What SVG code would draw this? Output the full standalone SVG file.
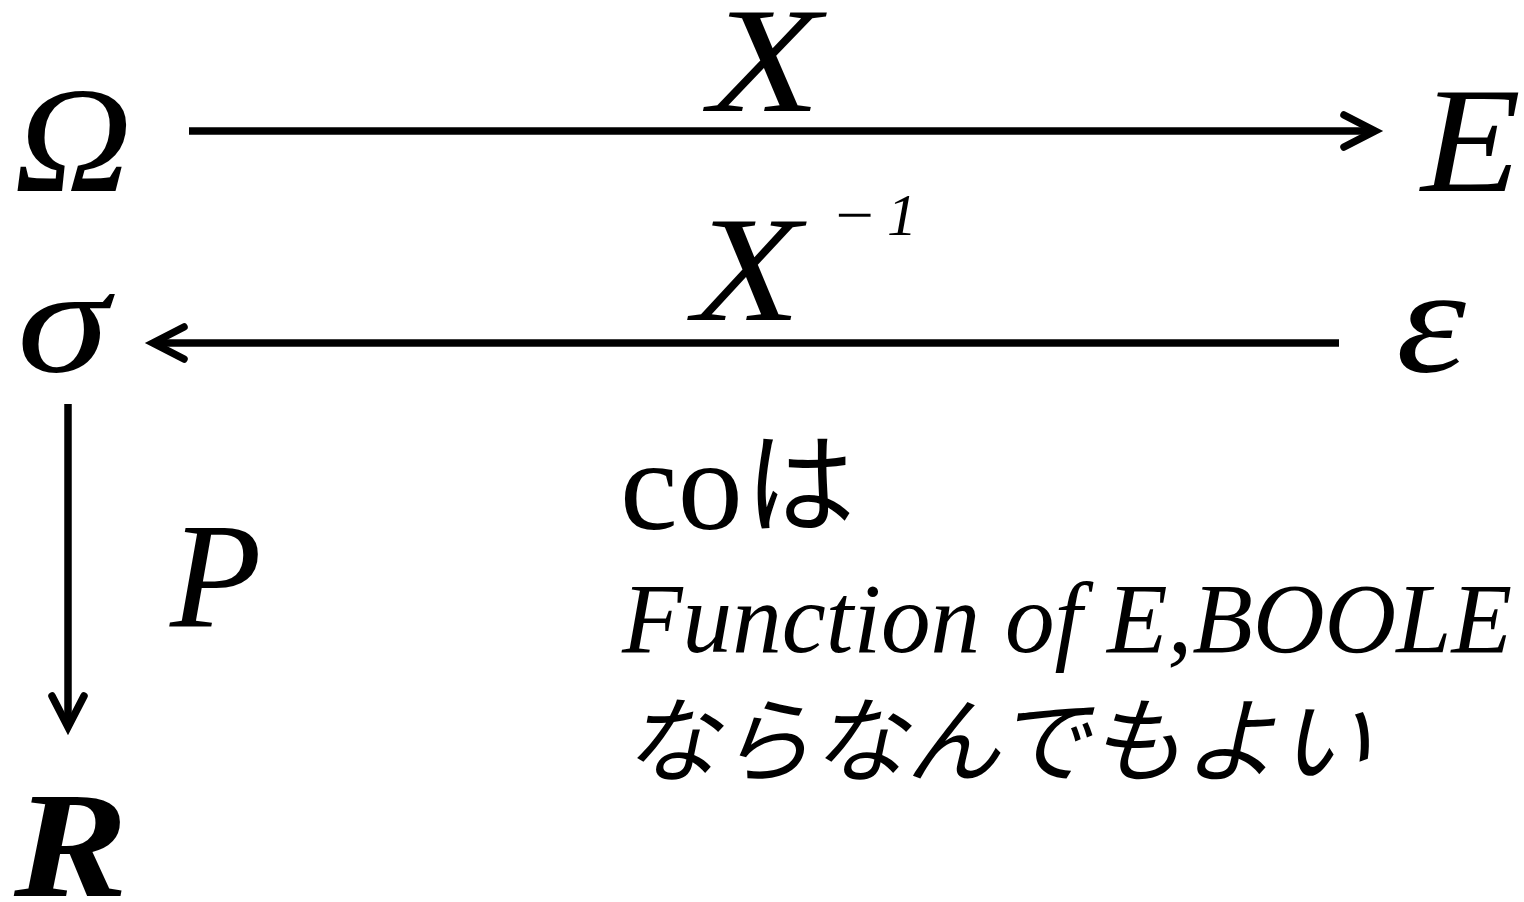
<svg xmlns="http://www.w3.org/2000/svg" width="1524" height="902" viewBox="0 0 1524 902">
  <defs>
    <style>
      .m { font-family: "Liberation Serif", "Times New Roman", serif; font-style: italic; fill: #000; }
      .big { font-size: 150px; }
      .jp { font-family: "Noto Sans CJK JP", "Noto Sans", sans-serif; fill: #000; }
      .conn { fill: none; stroke: #000; stroke-width: 7.5; }
    </style>
    <marker id="arr" viewBox="-45 -25 60 50" refX="0" refY="0" markerWidth="60" markerHeight="50" markerUnits="userSpaceOnUse" orient="auto">
      <path d="M-31,-16 L0,0 L-31,16" fill="none" stroke="#000" stroke-width="7.5" stroke-linecap="round" stroke-linejoin="miter"/>
    </marker>
  </defs>
  <rect width="1524" height="902" fill="#fff"/>

  <g id="connectors">
    <path class="conn" d="M189,131 H1375" marker-end="url(#arr)"/>
    <path class="conn" d="M1339,343 H153" marker-end="url(#arr)"/>
    <path class="conn" d="M68,404 V727" marker-end="url(#arr)"/>
  </g>

  <g id="node-omega"><text class="m big" x="14" y="191" textLength="118" lengthAdjust="spacingAndGlyphs">Ω</text></g>
  <g id="node-E"><text class="m big" x="1421" y="191" textLength="100" lengthAdjust="spacingAndGlyphs">E</text></g>
  <g id="node-sigma"><text class="m big" x="17" y="372" textLength="92" lengthAdjust="spacingAndGlyphs">σ</text></g>
  <g id="node-epsilon"><text class="m big" x="1396" y="372" textLength="70" lengthAdjust="spacingAndGlyphs">ε</text></g>
  <g id="node-R"><text class="m big" x="14" y="896" font-weight="bold" textLength="114" lengthAdjust="spacingAndGlyphs">R</text></g>

  <g id="label-X"><text class="m big" x="709" y="111" textLength="112" lengthAdjust="spacingAndGlyphs">X</text></g>
  <g id="label-Xinv">
    <text class="m big" x="693" y="320" textLength="108" lengthAdjust="spacingAndGlyphs">X</text>
    <text class="m" x="831" y="235" font-size="60" textLength="46" lengthAdjust="spacingAndGlyphs">−</text>
    <text class="m" x="887" y="235" font-size="60">1</text>
  </g>
  <g id="label-P"><text class="m big" x="170" y="627">P</text></g>

  <g id="note">
    <text x="620" y="529" font-family="Liberation Serif, serif" font-size="130" fill="#000">co</text>
    <text class="jp" x="745" y="524" font-size="110">は</text>
    <text class="m" x="622" y="652" font-size="100" textLength="890" lengthAdjust="spacingAndGlyphs">Function of E,BOOLE</text>
    <text class="jp" x="624" y="775" font-size="94" font-style="italic">ならなんでもよい</text>
  </g>
</svg>
